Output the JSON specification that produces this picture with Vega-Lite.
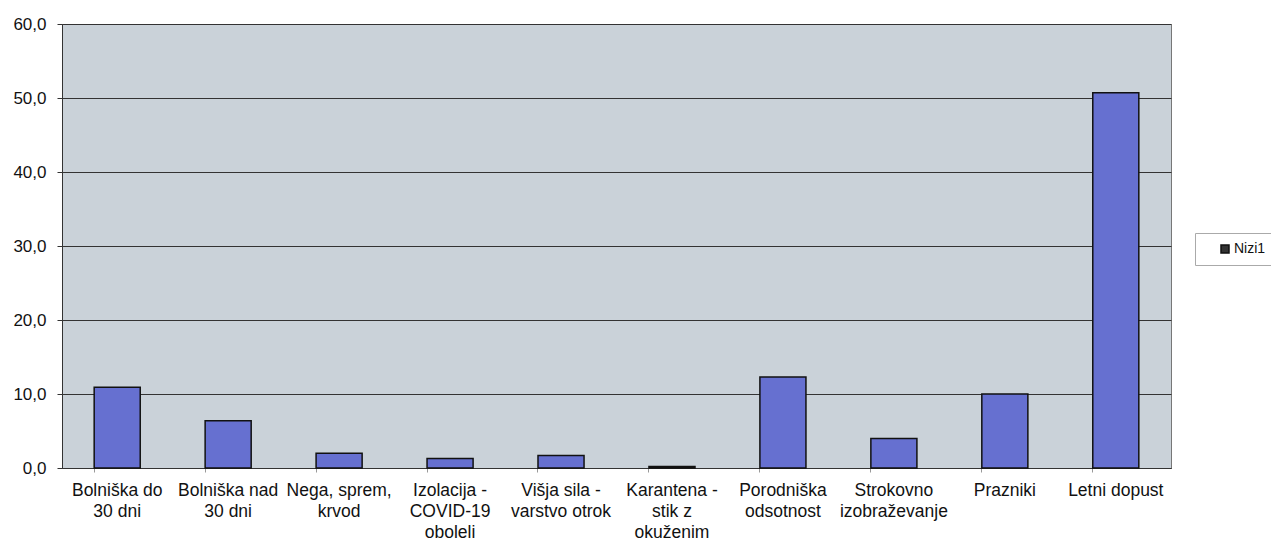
{
  "$schema": "https://vega.github.io/schema/vega-lite/v6.json",
  "width": 1109,
  "height": 444,
  "autosize": {"type": "none"},
  "padding": {"left": 62, "top": 24, "right": 100, "bottom": 74},
  "background": "white",
  "config": {
    "font": "Liberation Sans",
    "view": {"fill": "#cad2d9", "stroke": "#777", "strokeWidth": 1}
  },
  "data": {
    "values": [
      {"category": "Bolniška do 30 dni", "series": "Nizi1", "value": 10.9},
      {"category": "Bolniška nad 30 dni", "series": "Nizi1", "value": 6.4},
      {"category": "Nega, sprem, krvod", "series": "Nizi1", "value": 2.0},
      {"category": "Izolacija - COVID-19 oboleli", "series": "Nizi1", "value": 1.3},
      {"category": "Višja sila - varstvo otrok", "series": "Nizi1", "value": 1.7},
      {"category": "Karantena - stik z okuženim", "series": "Nizi1", "value": 0.2},
      {"category": "Porodniška odsotnost", "series": "Nizi1", "value": 12.3},
      {"category": "Strokovno izobraževanje", "series": "Nizi1", "value": 4.0},
      {"category": "Prazniki", "series": "Nizi1", "value": 10.0},
      {"category": "Letni dopust", "series": "Nizi1", "value": 50.7}
    ]
  },
  "encoding": {
    "x": {
      "field": "category",
      "type": "nominal",
      "sort": null,
      "scale": {"paddingInner": 0.585, "paddingOuter": 0.29},
      "axis": {
        "title": null,
        "labelAngle": 0,
        "labelFontSize": 17.5,
        "labelColor": "#111",
        "labelLineHeight": 21,
        "labelPadding": 9,
        "labelLimit": 200,
        "domainColor": "#333",
        "tickColor": "#999",
        "tickSize": 4,
        "bandPosition": 0,
        "labelExpr": "{'Bolniška do 30 dni': ['Bolniška do', '30 dni'], 'Bolniška nad 30 dni': ['Bolniška nad', '30 dni'], 'Nega, sprem, krvod': ['Nega, sprem,', 'krvod'], 'Izolacija - COVID-19 oboleli': ['Izolacija -', 'COVID-19', 'oboleli'], 'Višja sila - varstvo otrok': ['Višja sila -', 'varstvo otrok'], 'Karantena - stik z okuženim': ['Karantena -', 'stik z', 'okuženim'], 'Porodniška odsotnost': ['Porodniška', 'odsotnost'], 'Strokovno izobraževanje': ['Strokovno', 'izobraževanje'], 'Prazniki': ['Prazniki'], 'Letni dopust': ['Letni dopust']}[datum.label]"
      }
    },
    "y": {
      "field": "value",
      "type": "quantitative",
      "scale": {"domain": [0, 60], "nice": false},
      "axis": {
        "title": null,
        "values": [0, 10, 20, 30, 40, 50, 60],
        "labelExpr": "replace(format(datum.value, '.1f'), '.', ',')",
        "labelFontSize": 17,
        "labelColor": "#111",
        "labelPadding": 11,
        "tickSize": 5,
        "tickColor": "#333",
        "domainColor": "#333",
        "gridColor": "#333",
        "gridWidth": 1,
        "gridOpacity": 1
      }
    }
  },
  "layer": [
    {
      "mark": {"type": "bar", "fill": "#6670d0", "stroke": "#111", "strokeWidth": 1.5}
    },
    {
      "transform": [{"filter": "datum.value > 1000"}],
      "mark": {"type": "bar", "stroke": "#111", "strokeWidth": 1},
      "encoding": {
        "color": {
          "field": "series",
          "type": "nominal",
          "scale": {"domain": ["Nizi1"], "range": ["#333333"]},
          "legend": {
            "title": null,
            "orient": "none",
            "legendX": 1133,
            "legendY": 209,
            "fillColor": "white",
            "strokeColor": "#aaa",
            "padding": 9,
            "symbolOffset": 14,
            "symbolType": "square",
            "symbolSize": 64,
            "symbolStrokeColor": "#111",
            "labelFontSize": 14,
            "labelColor": "#111",
            "labelOffset": 2
          }
        }
      }
    }
  ]
}
